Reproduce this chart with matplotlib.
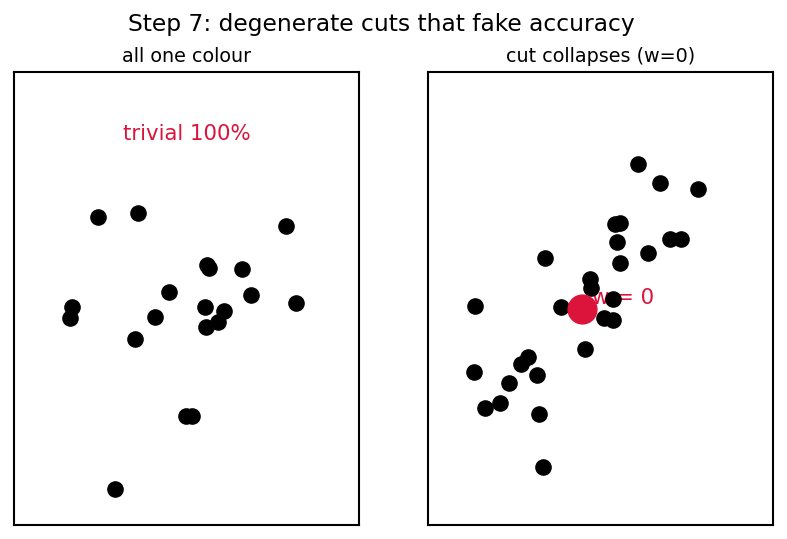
import matplotlib
matplotlib.use("Agg")
import matplotlib.pyplot as plt

left_x = [2.43, 3.59, 7.88, 5.59, 5.65, 6.61, 1.68, 1.62, 4.49, 6.87,
          8.17, 5.54, 6.09, 4.09, 5.91, 5.57, 3.51, 4.99, 5.16, 2.93]
left_y = [6.80, 6.89, 6.60, 5.74, 5.67, 5.65, 4.81, 4.57, 5.14, 5.08,
          4.90, 4.81, 4.72, 4.59, 4.48, 4.37, 4.11, 2.41, 2.41, 0.79]

right_x = [6.09, 6.72, 7.83, 5.42, 5.57, 5.48, 7.01, 7.33, 6.38, 3.39,
           5.57, 4.70, 4.72, 1.36, 3.86, 5.36, 5.10, 5.36, 4.55, 2.90,
           2.70, 1.33, 3.16, 2.35, 2.09, 1.65, 3.22, 3.33]
right_y = [7.97, 7.55, 7.42, 6.64, 6.67, 6.25, 6.31, 6.31, 6.00, 5.89,
           5.78, 5.43, 5.23, 4.83, 4.81, 4.99, 4.57, 4.53, 3.89, 3.71,
           3.55, 3.38, 3.31, 3.13, 2.69, 2.58, 2.45, 1.28]

collapsed_x = [4.46]
collapsed_y = [4.77]

W = 787 / 100
H = 539 / 100
fig = plt.figure(figsize=(W, H), dpi=100)
ax1 = fig.add_axes([14 / 787, 14 / 539, 345 / 787, 453 / 539])
ax2 = fig.add_axes([428 / 787, 14 / 539, 345 / 787, 453 / 539])

for ax in (ax1, ax2):
    ax.set_xlim(0, 10)
    ax.set_ylim(0, 10)
    ax.set_xticks([])
    ax.set_yticks([])
    for s in ax.spines.values():
        s.set_linewidth(1.5)

ax1.scatter(left_x, left_y, s=120, color="black", zorder=2)
ax1.text(5.01, 8.63, "trivial 100%", color="crimson", fontsize=15.3,
         ha="center", va="center")
ax1.set_title("all one colour", fontsize=13.8, pad=7)

ax2.text(4.75, 5.01, "w = 0", color="crimson", fontsize=15.3,
         ha="left", va="center", zorder=1)
ax2.scatter(right_x, right_y, s=120, color="black", zorder=2)
ax2.scatter(collapsed_x, collapsed_y, s=430, color="crimson", zorder=3)
ax2.set_title("cut collapses (w=0)", fontsize=13.8, pad=7)

fig.suptitle("Step 7: degenerate cuts that fake accuracy", fontsize=16.8,
             x=381 / 787, y=1 - 25 / 539, va="center")

fig.savefig("out.png", dpi=100)
